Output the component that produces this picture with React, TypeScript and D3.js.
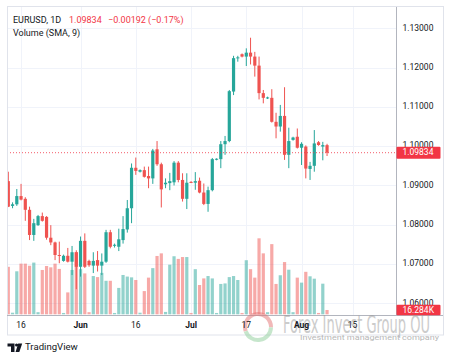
import React from "react";
import * as d3 from "d3";

const opens = [1.0911,1.0848,1.0852,1.0873,1.0866,1.0838,1.0774,1.0799,1.0822,1.0820,
1.0767,1.0755,1.0723,1.0708,1.0721,1.0706,1.0730,1.0693,1.0759,1.0708,
1.0696,1.0710,1.0696,1.0706,1.0781,1.0747,1.0744,1.0761,1.0788,1.0842,
1.0945,1.0935,1.0939,1.0924,1.0918,1.0992,1.0954,1.0903,1.0906,1.0908,
1.0958,1.0914,1.0866,1.0909,1.0907,1.0912,1.0882,1.0853,1.0888,1.0966,
1.0967,1.1005,1.1013,1.1139,1.1224,1.1234,1.1228,1.1238,1.1228,1.1205,
1.1135,1.1122,1.1123,1.1062,1.1050,1.1077,1.0978,1.1016,1.1024,1.0996,
1.0999,1.0942,1.0950,1.1010,1.0999,1.10026];

const highs = [1.0935,1.0857,1.0891,1.0904,1.0870,1.0846,1.0815,1.0825,1.0831,1.0822,
1.0799,1.0757,1.0757,1.0724,1.0741,1.0746,1.0735,1.0770,1.0778,1.0711,
1.0730,1.0733,1.0727,1.0787,1.0787,1.0752,1.0790,1.0822,1.0863,1.0956,
1.0971,1.0941,1.0948,1.0948,1.0993,1.1013,1.0958,1.0918,1.0932,1.0962,
1.0962,1.0931,1.0931,1.0911,1.0934,1.0920,1.0905,1.0897,1.0970,1.0969,
1.1013,1.1026,1.1143,1.1230,1.1230,1.1236,1.1249,1.1276,1.1240,1.1228,
1.1143,1.1126,1.1145,1.1085,1.1105,1.1150,1.1047,1.1024,1.1045,1.1010,
1.1002,1.0960,1.1041,1.1013,1.1011,1.1006];

const lows = [1.0845,1.0842,1.0848,1.0862,1.0810,1.0761,1.0759,1.0797,1.0808,1.0762,
1.0748,1.0710,1.0702,1.0706,1.0704,1.0672,1.0636,1.0668,1.0690,1.0693,
1.0677,1.0681,1.0672,1.0703,1.0740,1.0742,1.0733,1.0752,1.0780,1.0804,
1.0927,1.0933,1.0920,1.0893,1.0904,1.0950,1.0844,1.0893,1.0888,1.0900,
1.0908,1.0859,1.0840,1.0906,1.0889,1.0880,1.0850,1.0833,1.0885,1.0964,
1.0944,1.0978,1.1010,1.1130,1.1215,1.1226,1.1204,1.1208,1.1177,1.1119,
1.1109,1.1120,1.1060,1.1020,1.1037,1.0965,1.0944,1.1014,1.0994,1.0952,
1.0918,1.0914,1.0935,1.1001,1.0964,1.0975];

const closes = [1.0846,1.0852,1.0873,1.0864,1.0838,1.0774,1.0804,1.0822,1.0810,1.0767,
1.0755,1.0723,1.0722,1.0721,1.0706,1.0730,1.0693,1.0759,1.0693,1.0697,
1.0708,1.0696,1.0706,1.0781,1.0744,1.0749,1.0763,1.0789,1.0842,1.0945,
1.0937,1.0939,1.0922,1.0918,1.0989,1.0954,1.0890,1.0907,1.0911,1.0958,
1.0914,1.0866,1.0907,1.0907,1.0911,1.0882,1.0853,1.0888,1.0967,1.0968,
1.1005,1.1013,1.1140,1.1224,1.1226,1.1228,1.1238,1.1228,1.1205,1.1135,
1.1123,1.1124,1.1062,1.1050,1.1077,1.0978,1.1013,1.1022,1.0996,1.1006,
1.0943,1.0950,1.1007,1.1003,1.10026,1.09834];

// volume in thousands
const volumes = [180,6,163,192,192,184,196,8,168,183,
178,192,172,5,83,168,236,171,155,8,
145,141,157,127,127,5,100,149,143,140,
130,6,88,139,175,221,231,9,188,220,
210,217,217,5,171,111,136,145,136,5,
115,117,141,145,130,5,205,171,139,288,
231,8,266,115,148,198,169,8,139,120,
161,144,135,5,116,16.284];

const priceTicks = [1.06, 1.07, 1.08, 1.09, 1.10, 1.11, 1.12, 1.13];
const timeTickIndex = [3, 17, 30, 43, 56, 69, 81];
const timeTickLabels = ["16", "Jun", "16", "Jul", "17", "Aug", "15"];
const timeTickIsMonth = [false, true, false, true, false, true, false];

const lastPrice = 1.09834;
const lastChange = "\u22120.00192 (\u22120.17%)";
const lastVolumeLabel = "16.284K";

const UP = "#26a69a";
const DOWN = "#ef5350";
const UP_VOL = "rgba(38,166,154,0.5)";
const DOWN_VOL = "rgba(239,83,80,0.5)";
const LABEL_RED = "#f23645";
const FONT = "Roboto, 'Noto Sans', sans-serif";

export default function App() {
  const W = 450, H = 361;
  const left = 7, right = 396, top = 7, bottom = 315, outerRight = 443, outerBottom = 335;

  const x = d3.scaleLinear().domain([0, 75]).range([8.3, 8.3 + 75 * 4.25]);
  const y = d3.scaleLinear().domain([1.05703, 1.13542]).range([bottom, top]);
  const yv = d3.scaleLinear().domain([0, 300]).range([314.3, 314.3 - 300 / 3.79]);

  const bw = 3.2;
  const idx = d3.range(opens.length);

  return (
    <svg width={W} height={H} style={{ display: "block", position: "absolute", left: 0, top: 0, background: "#fff" }}
      fontFamily={FONT}>
      <defs>
        <clipPath id="plot">
          <rect x={left} y={top} width={right - left} height={bottom - top} />
        </clipPath>
      </defs>
      <rect x={0} y={0} width={W} height={H} fill="#fff" />
      {/* grid */}
      <g stroke="#f0f3fa" strokeWidth={1}>
        {priceTicks.map((p) => (
          <line key={"h" + p} x1={left} x2={right} y1={Math.round(y(p)) + 0.5} y2={Math.round(y(p)) + 0.5} />
        ))}
        {timeTickIndex.map((t, k) => (
          <line key={"v" + k} x1={Math.round(x(t)) + 0.5} x2={Math.round(x(t)) + 0.5} y1={top} y2={bottom} />
        ))}
      </g>
      <g clipPath="url(#plot)">
        {/* volume */}
        {idx.map((i) => (
          <rect key={"vol" + i} x={x(i) - bw / 2} width={bw} y={yv(volumes[i])}
            height={Math.max(1, yv(0) - yv(volumes[i]))}
            fill={closes[i] >= opens[i] ? UP_VOL : DOWN_VOL} />
        ))}
        {/* candles */}
        {idx.map((i) => {
          const up = closes[i] >= opens[i];
          const col = up ? UP : DOWN;
          const yt = y(Math.max(opens[i], closes[i]));
          const yb = y(Math.min(opens[i], closes[i]));
          const cx = x(i);
          return (
            <g key={"c" + i}>
              <line x1={cx} x2={cx} y1={y(highs[i])} y2={y(lows[i])} stroke={col} strokeWidth={1} />
              <rect x={cx - bw / 2} width={bw} y={yt} height={Math.max(1, yb - yt)} fill={col} />
            </g>
          );
        })}
        {/* last price line */}
        <line x1={left} x2={right} y1={y(lastPrice)} y2={y(lastPrice)} stroke={LABEL_RED}
          strokeWidth={1} strokeDasharray="1 2" opacity={0.8} />
      </g>
      {/* frame */}
      <rect x={left + 0.5} y={top - 0.5} width={outerRight - left} height={outerBottom - top + 0.5}
        fill="none" stroke="#e0e3eb" strokeWidth={1} />
      <line x1={right + 0.5} x2={right + 0.5} y1={top} y2={bottom} stroke="#b2b5be" strokeWidth={1} />
      <line x1={left} x2={outerRight} y1={bottom + 0.5} y2={bottom + 0.5} stroke="#b2b5be" strokeWidth={1} />

      {/* price labels */}
      <g fontSize={8.5} fill="#131722">
        {priceTicks.map((p) => (
          <text key={"pt" + p} x={402.5} y={y(p)} dominantBaseline="middle">{p.toFixed(5)}</text>
        ))}
      </g>
      {/* last price tag */}
      <rect x={right + 0.5} y={y(lastPrice) - 6} width={44} height={12} fill={LABEL_RED} rx={1} />
      <text x={402.5} y={y(lastPrice) + 0.5} dominantBaseline="middle" fontSize={8.5} fill="#fff">
        {lastPrice.toFixed(5)}
      </text>
      {/* last volume tag */}
      <rect x={right + 0.5} y={yv(0) - 9.5} width={44} height={10.5} fill={LABEL_RED} rx={1} />
      <text x={402.5} y={yv(0) - 4} dominantBaseline="middle" fontSize={8.5} fill="#fff">
        {lastVolumeLabel}
      </text>

      {/* watermark (drawn beneath the time labels) */}
      <g opacity={0.5}>
        <path d={d3.arc()({ innerRadius: 11, outerRadius: 15, startAngle: -1.9, endAngle: 1.6 }) || ""}
          transform="translate(258,327)" fill="#e57373" />
        <path d={d3.arc()({ innerRadius: 11, outerRadius: 15, startAngle: 1.6, endAngle: 4.38 }) || ""}
          transform="translate(258,327)" fill="#8fcf9a" />
      </g>
      <text x={283} y={333} fontSize={24} fill="#9a9a9a" opacity={0.5}
        fontFamily="'Liberation Sans Narrow', 'DejaVu Sans Condensed', sans-serif"
        textLength={147} lengthAdjust="spacingAndGlyphs">Forex Invest Group OU</text>
      <text x={300} y={339.5} fontSize={8} fill="#9a9a9a" opacity={0.7}
        textLength={139} lengthAdjust="spacingAndGlyphs">Investment management company</text>

      {/* time labels */}
      <g fontSize={8.5} fill="#131722" textAnchor="middle">
        {timeTickIndex.map((t, k) => (
          <text key={"tt" + k} x={x(t)} y={326} dominantBaseline="middle"
            fontWeight={timeTickIsMonth[k] ? 700 : 400}>{timeTickLabels[k]}</text>
        ))}
      </g>

      {/* header legend */}
      <g fontSize={9} dominantBaseline="middle">
        <text x={13} y={21} fill="#131722">EURUSD, 1D</text>
        <text x={69} y={21} fill={LABEL_RED}>{lastPrice.toFixed(5)}</text>
        <text x={108} y={21} fill={LABEL_RED}>{lastChange}</text>
        <text x={13} y={33.5} fill="#131722">Volume (SMA, 9)</text>
      </g>

      {/* TradingView logo */}
      <g fill="#131722">
        <path d="M7.5 343.5 H14.5 V352 H11 V346.5 H7.5 Z" />
        <circle cx={16.6} cy={345} r={1.6} />
        <path d="M18.2 343.5 H22.2 L19.3 352 H15.6 Z" />
      </g>
      <text x={25} y={347.5} fontSize={9.6} fill="#131722" dominantBaseline="middle">TradingView</text>
    </svg>
  );
}
